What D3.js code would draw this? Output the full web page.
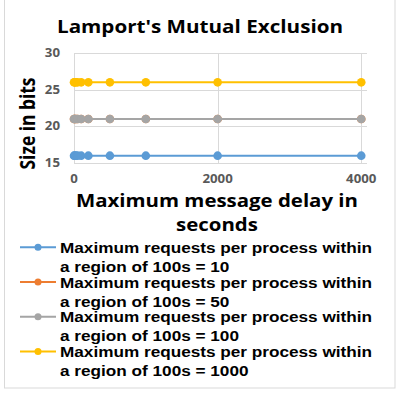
<!DOCTYPE html>
<html>
<head>
<meta charset="utf-8">
<script src="https://cdn.jsdelivr.net/npm/d3@7"></script>
<style>
	body { margin: 0; background: #fff; }
	text { font-family: "Open Sans", "DejaVu Sans", sans-serif; font-weight: bold; }
	.legend text { font-family: "Liberation Sans", Arial, sans-serif; }
</style>
</head>
<body>
<div id="vis"></div>
<script>

// message delay values (seconds)
var delays = [0, 10, 25, 50, 100, 200, 500, 1000, 2000, 4000];

// size in bits for each series (flat lines)
var req10 = [16, 16, 16, 16, 16, 16, 16, 16, 16, 16];
var req50 = [21, 21, 21, 21, 21, 21, 21, 21, 21, 21];
var req100 = [21, 21, 21, 21, 21, 21, 21, 21, 21, 21];
var req1000 = [26, 26, 26, 26, 26, 26, 26, 26, 26, 26];

var seriesNames = [
	["Maximum requests per process within", "a region of 100s = 10"],
	["Maximum requests per process within", "a region of 100s = 50"],
	["Maximum requests per process within", "a region of 100s = 100"],
	["Maximum requests per process within", "a region of 100s = 1000"]
];
var seriesColors = ["#5b9bd5", "#ed7d31", "#a5a5a5", "#ffc000"];
var seriesValues = [req10, req50, req100, req1000];

var xTicks = [0, 2000, 4000];
var yTicks = [15, 20, 25, 30];

var w = 401, h = 393;

var svg = d3.select("#vis").append("svg")
	.attr("width", w)
	.attr("height", h);

// stretch a text horizontally (the original font is wider)
function stretch (sel, factor) {
	sel.each(function () {
		var len = this.getComputedTextLength();
		d3.select(this)
			.attr("textLength", len * factor)
			.attr("lengthAdjust", "spacingAndGlyphs");
	});
}

// chart border
svg.append("rect")
	.attr("x", 4.5)
	.attr("y", -0.5)
	.attr("width", 390.5)
	.attr("height", 388.5)
	.attr("fill", "#fff")
	.attr("stroke", "#d9d9d9");

var x = d3.scaleLinear().domain([0, 4080]).range([74, 367]);
var y = d3.scaleLinear().domain([15, 30]).range([163, 53]);

// gridlines
svg.selectAll(".hgrid")
	.data(yTicks)
	.enter()
	.append("line")
	.attr("class", "hgrid")
	.attr("x1", x(0))
	.attr("x2", x(4080))
	.attr("y1", function (d) { return Math.round(y(d)) + 0.5 })
	.attr("y2", function (d) { return Math.round(y(d)) + 0.5 })
	.attr("stroke", "#d9d9d9")
	.attr("stroke-width", 1);

svg.selectAll(".vgrid")
	.data(xTicks)
	.enter()
	.append("line")
	.attr("class", "vgrid")
	.attr("x1", function (d) { return Math.round(x(d)) + 0.5 })
	.attr("x2", function (d) { return Math.round(x(d)) + 0.5 })
	.attr("y1", y(30))
	.attr("y2", y(15))
	.attr("stroke", "#d9d9d9")
	.attr("stroke-width", 1);

// tick labels
svg.selectAll(".ytick")
	.data(yTicks)
	.enter()
	.append("text")
	.attr("class", "ytick")
	.attr("x", 60)
	.attr("y", function (d) { return y(d) + 4 })
	.attr("text-anchor", "end")
	.attr("font-size", 11.5)
	.attr("fill", "#595959")
	.text(function (d) { return d })
	.call(stretch, 1.15);

svg.selectAll(".xtick")
	.data(xTicks)
	.enter()
	.append("text")
	.attr("class", "xtick")
	.attr("x", function (d) { return x(d) })
	.attr("y", 183)
	.attr("text-anchor", "middle")
	.attr("font-size", 11.5)
	.attr("fill", "#595959")
	.text(function (d) { return d })
	.call(stretch, 1.15);

// series
var line = d3.line()
	.x(function (d, i) { return x(delays[i]) })
	.y(function (d) { return y(d) });

seriesValues.forEach(function (vals, s) {
	svg.append("path")
		.datum(vals)
		.attr("d", line)
		.attr("fill", "none")
		.attr("stroke", seriesColors[s])
		.attr("stroke-width", 2);

	svg.selectAll(".dot-" + s)
		.data(vals)
		.enter()
		.append("circle")
		.attr("class", "dot-" + s)
		.attr("cx", function (d, i) { return x(delays[i]) })
		.attr("cy", function (d) { return y(d) })
		.attr("r", 4.3)
		.attr("fill", seriesColors[s]);
});

// titles
svg.append("text")
	.attr("x", 200)
	.attr("y", 33)
	.attr("text-anchor", "middle")
	.attr("font-size", 17.5)
	.attr("fill", "#000")
	.attr("textLength", 286)
	.attr("lengthAdjust", "spacingAndGlyphs")
	.text("Lamport's Mutual Exclusion");

svg.append("text")
	.attr("transform", "translate(35,123.5) rotate(-90)")
	.attr("text-anchor", "middle")
	.attr("font-size", 22)
	.attr("fill", "#000")
	.attr("textLength", 92)
	.attr("lengthAdjust", "spacingAndGlyphs")
	.text("Size in bits");

var xTitle = ["Maximum message delay in", "seconds"];
svg.selectAll(".xtitle")
	.data(xTitle)
	.enter()
	.append("text")
	.attr("class", "xtitle")
	.attr("x", 217)
	.attr("y", function (d, i) { return 207 + i * 23.5 })
	.attr("text-anchor", "middle")
	.attr("font-size", 17)
	.attr("fill", "#000")
	.text(function (d) { return d })
	.call(stretch, 1.2);

// legend
var legend = svg.selectAll(".legend")
	.data(seriesNames)
	.enter()
	.append("g")
	.attr("class", "legend")
	.attr("transform", function (d, i) { return "translate(0," + (253 + i * 34.7) + ")" });

legend.append("line")
	.attr("x1", 20)
	.attr("x2", 56)
	.attr("y1", -5.7)
	.attr("y2", -5.7)
	.attr("stroke", function (d, i) { return seriesColors[i] })
	.attr("stroke-width", 2);

legend.append("circle")
	.attr("cx", 38)
	.attr("cy", -5.7)
	.attr("r", 3.5)
	.attr("fill", function (d, i) { return seriesColors[i] });

legend.selectAll("text")
	.data(function (d) { return d })
	.enter()
	.append("text")
	.attr("x", 60)
	.attr("y", function (d, j) { return j * 19 })
	.attr("font-size", 14)
	.attr("fill", "#000")
	.text(function (d) { return d });

// line 1 of the legend is 312px wide in the original
var natural = legend.select("text").node().getComputedTextLength();
legend.selectAll("text").call(stretch, 312 / natural);

</script>
</body>
</html>
